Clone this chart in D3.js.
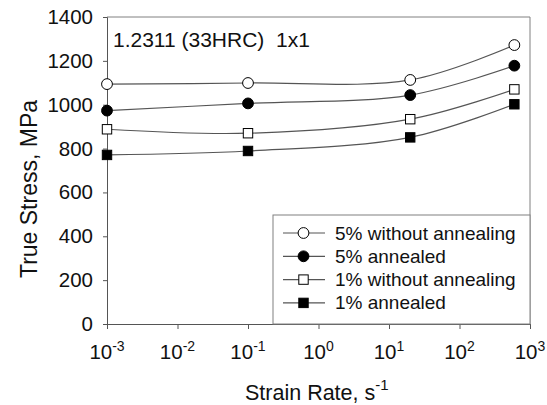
<!DOCTYPE html>
<html>
<head>
<meta charset="utf-8">
<script src="https://cdn.jsdelivr.net/npm/d3@7"></script>
<style>
  body { margin: 0; background: #fff; }
  text { font-family: Arial, "Liberation Sans", sans-serif; fill: #111; }
</style>
</head>
<body>
<div id="chart"></div>
<script>
var svgWidth = 547;
var svgHeight = 405;

var margin = { top: 17, right: 17, bottom: 81, left: 107 };
var width = svgWidth - margin.left - margin.right;
var height = svgHeight - margin.top - margin.bottom;

// data
var strainRates = [0.001, 0.1, 20, 600];
var open5 = [1094, 1099, 1113, 1272];
var filled5 = [973, 1006, 1044, 1178];
var open1 = [888, 870, 934, 1070];
var filled1 = [771, 789, 851, 1002];
var seriesNames = ["5% without annealing", "5% annealed", "1% without annealing", "1% annealed"];
var yTicks = [0, 200, 400, 600, 800, 1000, 1200, 1400];
var xExponents = [-3, -2, -1, 0, 1, 2, 3];

var series = [
  { name: seriesNames[0], values: open5, shape: "circle", fill: "#fff" },
  { name: seriesNames[1], values: filled5, shape: "circle", fill: "#000" },
  { name: seriesNames[2], values: open1, shape: "square", fill: "#fff" },
  { name: seriesNames[3], values: filled1, shape: "square", fill: "#000" }
];

var svg = d3.select("#chart")
  .append("svg")
  .attr("width", svgWidth)
  .attr("height", svgHeight);

var chartGroup = svg.append("g")
  .attr("transform", `translate(${margin.left}, ${margin.top})`);

var xScale = d3.scaleLog().domain([1e-3, 1e3]).range([0, width]);
var yScale = d3.scaleLinear().domain([0, 1400]).range([height, 0]);

// frame (top and right)
chartGroup.append("path")
  .attr("d", `M0,0H${width}V${height}`)
  .attr("fill", "none")
  .attr("stroke", "#808080")
  .attr("stroke-width", 1);

// axes
var leftAxis = d3.axisLeft(yScale).tickValues(yTicks).tickSize(4).tickPadding(10)
  .tickFormat(d3.format("d"));
var bottomAxis = d3.axisBottom(xScale)
  .tickValues(xExponents.map(e => Math.pow(10, e)))
  .tickSize(5).tickFormat("");

var yAxis = chartGroup.append("g").call(leftAxis);
var xAxis = chartGroup.append("g").attr("transform", `translate(0, ${height})`).call(bottomAxis);

[yAxis, xAxis].forEach(function(ax) {
  ax.select(".domain").attr("stroke", "#555");
  ax.selectAll(".tick line").attr("stroke", "#555");
});
yAxis.selectAll(".tick text")
  .attr("font-size", 20.5)
  .attr("font-family", "Arial, 'Liberation Sans', sans-serif")
  .attr("fill", "#111");

// x tick labels with superscript exponents
var xLabels = chartGroup.append("g");
xExponents.forEach(function(e) {
  var t = xLabels.append("text")
    .attr("x", xScale(Math.pow(10, e)))
    .attr("y", height + 35)
    .attr("text-anchor", "middle")
    .attr("font-size", 20.5);
  t.append("tspan").text("10");
  t.append("tspan").attr("dy", -8).attr("font-size", 14).text(e);
});

// lines
var line = d3.line()
  .x(d => xScale(d[0]))
  .y(d => yScale(d[1]))
  .curve(d3.curveCatmullRom.alpha(0.5));

series.forEach(function(s) {
  var pts = strainRates.map((r, i) => [r, s.values[i]]);
  chartGroup.append("path")
    .datum(pts)
    .attr("d", line)
    .attr("fill", "none")
    .attr("stroke", "#555")
    .attr("stroke-width", 1.2);
});

function drawMarker(g, shape, fill, x, y) {
  if (shape === "circle") {
    g.append("circle").attr("cx", x).attr("cy", y).attr("r", 5.4)
      .attr("fill", fill).attr("stroke", "#000").attr("stroke-width", 1);
  } else {
    g.append("rect").attr("x", x - 4.7).attr("y", y - 4.7).attr("width", 9.4).attr("height", 9.4)
      .attr("fill", fill).attr("stroke", "#000").attr("stroke-width", 1);
  }
}

var markers = chartGroup.append("g");
series.forEach(function(s) {
  strainRates.forEach(function(r, i) {
    drawMarker(markers, s.shape, s.fill, xScale(r), yScale(s.values[i]));
  });
});

// annotation
chartGroup.append("text")
  .attr("x", 6)
  .attr("y", 30)
  .attr("font-size", 21)
  .attr("xml:space", "preserve")
  .text("1.2311 (33HRC)  1x1");

// legend
var legend = chartGroup.append("g")
  .attr("transform", `translate(${273 - margin.left}, ${215 - margin.top})`);
legend.append("rect")
  .attr("width", width - (273 - margin.left))
  .attr("height", height - (215 - margin.top))
  .attr("fill", "#fff")
  .attr("stroke", "#808080");

series.forEach(function(s, i) {
  var y = 18 + i * 23.3;
  legend.append("line")
    .attr("x1", 10).attr("x2", 52).attr("y1", y).attr("y2", y)
    .attr("stroke", "#555").attr("stroke-width", 1.2);
  drawMarker(legend, s.shape, s.fill, 30.5, y);
  legend.append("text")
    .attr("x", 62)
    .attr("y", y + 6.5)
    .attr("font-size", 19)
    .text(s.name);
});

// axis titles
svg.append("text")
  .attr("transform", `translate(37, 189) rotate(-90)`)
  .attr("text-anchor", "middle")
  .attr("font-size", 23)
  .text("True Stress, MPa");

var xTitle = svg.append("text")
  .attr("x", 245)
  .attr("y", 400)
  .attr("font-size", 21.5);
xTitle.append("tspan").text("Strain Rate, s");
xTitle.append("tspan").attr("dy", -10).attr("font-size", 15).text("-1");
</script>
</body>
</html>
